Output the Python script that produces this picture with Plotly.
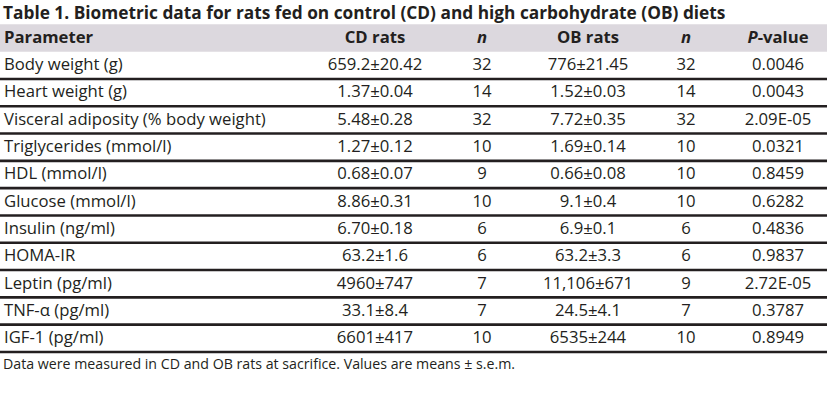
import plotly.graph_objects as go

title = "Table 1. Biometric data for rats fed on control (CD) and high carbohydrate (OB) diets"
footer = "Data were measured in CD and OB rats at sacrifice. Values are means \u00b1 s.e.m."
headers = ["Parameter", "CD rats", "<i>n</i>", "OB rats", "<i>n</i>", "<i>P</i>-value"]

parameters = ["Body weight (g)", "Heart weight (g)", "Visceral adiposity (% body weight)",
              "Triglycerides (mmol/l)", "HDL (mmol/l)", "Glucose (mmol/l)", "Insulin (ng/ml)",
              "HOMA-IR", "Leptin (pg/ml)", "TNF-\u03b1 (pg/ml)", "IGF-1 (pg/ml)"]
cd_rats = ["659.2\u00b120.42", "1.37\u00b10.04", "5.48\u00b10.28", "1.27\u00b10.12", "0.68\u00b10.07",
           "8.86\u00b10.31", "6.70\u00b10.18", "63.2\u00b11.6", "4960\u00b1747", "33.1\u00b18.4", "6601\u00b1417"]
cd_n = ["32", "14", "32", "10", "9", "10", "6", "6", "7", "7", "10"]
ob_rats = ["776\u00b121.45", "1.52\u00b10.03", "7.72\u00b10.35", "1.69\u00b10.14", "0.66\u00b10.08",
           "9.1\u00b10.4", "6.9\u00b10.1", "63.2\u00b13.3", "11,106\u00b1671", "24.5\u00b14.1", "6535\u00b1244"]
ob_n = ["32", "14", "32", "10", "10", "10", "6", "6", "9", "7", "10"]
p_values = ["0.0046", "0.0043", "2.09E-05", "0.0321", "0.8459", "0.6282", "0.4836",
            "0.9837", "2.72E-05", "0.3787", "0.8949"]

W, H = 832, 402
ROW0, ROWH = 38.0, 27.3          # pixel centre of header row and row pitch
TABLE_RIGHT = 827
TEXT_DY = 0.025                  # small downward nudge of text within its row (row units)
col_x = [4, 375, 482, 588, 686, 778]
col_pos = ["middle right", "middle center", "middle center", "middle center", "middle center", "middle center"]
columns = [parameters, cd_rats, cd_n, ob_rats, ob_n, p_values]

FONT = "Open Sans"
TXT = "#231f20"
BODY_SIZE = 16.7

fig = go.Figure()
n_rows = len(parameters)
rows_k = list(range(1, n_rows + 1))

# header band
fig.add_shape(type="rect", xref="x", yref="y", x0=0, x1=TABLE_RIGHT, y0=-0.5, y1=0.5,
              fillcolor="#dcd8de", line_width=0, layer="below")
# separator lines under each body row
for k in rows_k:
    fig.add_shape(type="line", xref="x", yref="y", x0=0, x1=TABLE_RIGHT, y0=k + 0.5, y1=k + 0.5,
                  line=dict(color="#231f20", width=2.6))

for ci, col in enumerate(columns):
    fig.add_trace(go.Scatter(
        x=[col_x[ci]] * (n_rows + 1), y=[r + TEXT_DY for r in [0] + rows_k], mode="text",
        text=["<b>" + headers[ci] + "</b>"] + col, textposition=col_pos[ci],
        textfont=dict(family=FONT, size=BODY_SIZE, color=TXT),
        cliponaxis=False, hoverinfo="skip", showlegend=False))

fig.add_trace(go.Scatter(x=[3], y=[-0.92 + 0.06], mode="text", text=["<b>" + title + "</b>"],
                         textposition="middle right",
                         textfont=dict(family=FONT, size=17.3, color=TXT),
                         cliponaxis=False, hoverinfo="skip", showlegend=False))
fig.add_trace(go.Scatter(x=[3], y=[11.98 + TEXT_DY], mode="text", text=[footer],
                         textposition="middle right",
                         textfont=dict(family=FONT, size=14.2, color=TXT),
                         cliponaxis=False, hoverinfo="skip", showlegend=False))

k_top = (0 - ROW0) / ROWH
k_bot = (H - ROW0) / ROWH
fig.update_layout(
    width=W, height=H, margin=dict(l=0, r=0, t=0, b=0),
    paper_bgcolor="white", plot_bgcolor="white",
    xaxis=dict(range=[0, W], visible=False, fixedrange=True),
    yaxis=dict(range=[k_bot, k_top], visible=False, fixedrange=True),
)
fig.write_html("out.html", config={"displayModeBar": False},
               post_script="document.body.style.margin='0px';document.body.style.overflow='hidden';")
